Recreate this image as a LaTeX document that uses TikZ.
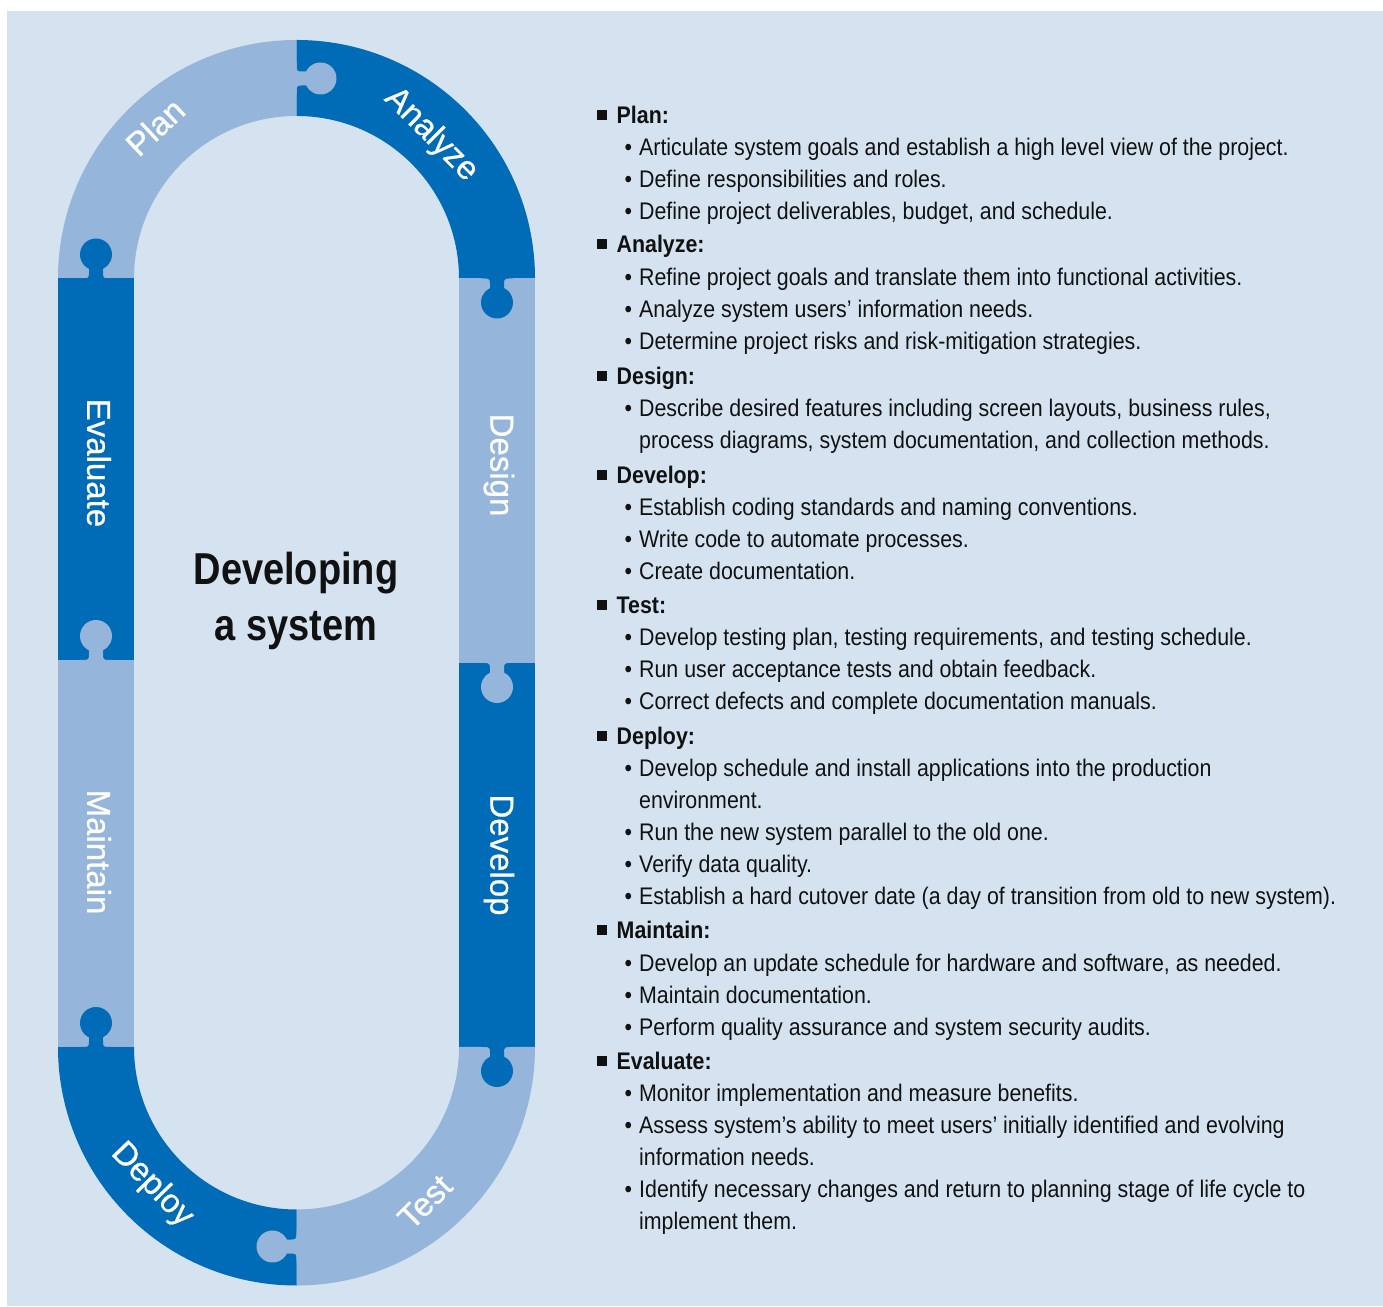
\documentclass[tikz,border=0pt]{standalone}
\usepackage{fontspec}
\setmainfont{Liberation Sans}[FakeStretch=0.89]
\newfontfamily\labelfont{Liberation Sans}[FakeBold=0.7]
\newfontfamily\titlefont{Liberation Sans}[FakeStretch=0.85]
\definecolor{bgblue}{HTML}{D5E3F0}
\definecolor{lightband}{HTML}{95B6DA}
\definecolor{darkband}{HTML}{006BB6}
\definecolor{inktext}{HTML}{111111}
\tikzset{
  pics/puzzletab/.style={code={
    \fill[#1] (-16,-2) -- (-16,0) -- (-12,0) .. controls (-8,0) and (-7,1) .. (-7,5) -- (-7,9.61)
      arc[start angle=244.06,end angle=-64.06,radius=16]
      -- (7,5) .. controls (7,1) and (8,0) .. (12,0) -- (16,0) -- (16,-2) -- cycle;
  }},
  bandlabel/.style={text=white,inner sep=0pt,font=\labelfont\fontsize{33}{37}\selectfont},
  headline/.style={anchor=base west,inner sep=0pt,text=inktext,font=\fontsize{24}{28}\selectfont\bfseries},
  itemline/.style={anchor=base west,inner sep=0pt,text=inktext,font=\fontsize{24}{28}\selectfont},
  titleline/.style={anchor=base,inner sep=0pt,text=inktext,font=\titlefont\bfseries\fontsize{44.7}{50}\selectfont}
}
\newcommand{\hsq}{\llap{\rule[3pt]{10pt}{10pt}\hspace{9.5pt}}}
\newcommand{\ibul}{\llap{\textbullet\hspace{7pt}}}
\begin{document}
\begin{tikzpicture}[x=1pt,y=1pt]
\useasboundingbox (0,0) rectangle (1383,1306);
\fill[white] (0,0) rectangle (1383,1306);
\fill[bgblue] (7,0) rectangle (1383,1295);
% band pieces
\fill[lightband] (58,1027.5) arc[start angle=180,end angle=90,radius=238.5] -- (296.5,1190) arc[start angle=90,end angle=180,radius=162.5] -- cycle;
\fill[darkband] (296.5,1266) arc[start angle=90,end angle=0,radius=238.5] -- (459,1027.5) arc[start angle=0,end angle=90,radius=162.5] -- cycle;
\fill[lightband] (459,643) rectangle (535,1027.5);
\fill[darkband] (459,259) rectangle (535,643);
\fill[lightband] (535,259) arc[start angle=0,end angle=-90,radius=238.5] -- (296.5,96.5) arc[start angle=-90,end angle=0,radius=162.5] -- cycle;
\fill[darkband] (296.5,20.5) arc[start angle=-90,end angle=-180,radius=238.5] -- (134,259) arc[start angle=180,end angle=270,radius=162.5] -- cycle;
\fill[lightband] (58,259) rectangle (134,646);
\fill[darkband] (58,646) rectangle (134,1027.5);
% tabs
\pic[rotate=-90] at (296.5,1227.5) {puzzletab=lightband};
\pic[rotate=180] at (497,1027.5) {puzzletab=darkband};
\pic[rotate=180] at (497,643) {puzzletab=lightband};
\pic[rotate=180] at (497,259) {puzzletab=darkband};
\pic[rotate=90] at (296.5,59.5) {puzzletab=lightband};
\pic at (96,259) {puzzletab=darkband};
\pic at (96,646) {puzzletab=lightband};
\pic at (96,1027.5) {puzzletab=darkband};
% band labels
\node[bandlabel,rotate=43] (lplan) at (155,1179) {Plan};
\node[bandlabel,rotate=-45] (lanalyze) at (431,1171) {Analyze};
\node[bandlabel,rotate=-90] (ldesign) at (499,841) {Design};
\node[bandlabel,rotate=-90] (ldevelop) at (499,451) {Develop};
\node[bandlabel,rotate=45] (ltest) at (425,104) {Test};
\node[bandlabel,rotate=-46] (ldeploy) at (152,121) {Deploy};
\node[bandlabel,rotate=-90] (lmaintain) at (99,454) {Maintain};
\node[bandlabel,rotate=-90] (levaluate) at (99,843) {Evaluate};
% title
\node[titleline] (title1) at (296,721) {Developing};
\node[titleline] (title2) at (296,665) {a system};
% list
\node[headline] (h1) at (616.5,1182.5) {\hsq Plan:};
\node[itemline] (i11) at (639,1150.5) {\ibul Articulate system goals and establish a high level view of the project.};
\node[itemline] (i12) at (639,1118.5) {\ibul Define responsibilities and roles.};
\node[itemline] (i13) at (639,1086.5) {\ibul Define project deliverables, budget, and schedule.};
\node[headline] (h2) at (616.5,1053.5) {\hsq Analyze:};
\node[itemline] (i21) at (639,1020.5) {\ibul Refine project goals and translate them into functional activities.};
\node[itemline] (i22) at (639,988.5) {\ibul Analyze system users’ information needs.};
\node[itemline] (i23) at (639,956.5) {\ibul Determine project risks and risk-mitigation strategies.};
\node[headline] (h3) at (616.5,921.5) {\hsq Design:};
\node[itemline] (i31) at (639,889.5) {\ibul Describe desired features including screen layouts, business rules,};
\node[itemline] (i32) at (639,857.5) {process diagrams, system documentation, and collection methods.};
\node[headline] (h4) at (616.5,822.5) {\hsq Develop:};
\node[itemline] (i41) at (639,790.5) {\ibul Establish coding standards and naming conventions.};
\node[itemline] (i42) at (639,758.5) {\ibul Write code to automate processes.};
\node[itemline] (i43) at (639,726.5) {\ibul Create documentation.};
\node[headline] (h5) at (616.5,692.5) {\hsq Test:};
\node[itemline] (i51) at (639,660.5) {\ibul Develop testing plan, testing requirements, and testing schedule.};
\node[itemline] (i52) at (639,628.5) {\ibul Run user acceptance tests and obtain feedback.};
\node[itemline] (i53) at (639,596.5) {\ibul Correct defects and complete documentation manuals.};
\node[headline] (h6) at (616.5,561.5) {\hsq Deploy:};
\node[itemline] (i61) at (639,529.5) {\ibul Develop schedule and install applications into the production};
\node[itemline] (i62) at (639,497.5) {environment.};
\node[itemline] (i63) at (639,465.5) {\ibul Run the new system parallel to the old one.};
\node[itemline] (i64) at (639,433.5) {\ibul Verify data quality.};
\node[itemline] (i65) at (639,401.5) {\ibul Establish a hard cutover date (a day of transition from old to new system).};
\node[headline] (h7) at (616.5,367.5) {\hsq Maintain:};
\node[itemline] (i71) at (639,334.5) {\ibul Develop an update schedule for hardware and software, as needed.};
\node[itemline] (i72) at (639,302.5) {\ibul Maintain documentation.};
\node[itemline] (i73) at (639,270.5) {\ibul Perform quality assurance and system security audits.};
\node[headline] (h8) at (616.5,236.5) {\hsq Evaluate:};
\node[itemline] (i81) at (639,204.5) {\ibul Monitor implementation and measure benefits.};
\node[itemline] (i82) at (639,172.5) {\ibul Assess system’s ability to meet users’ initially identified and evolving};
\node[itemline] (i83) at (639,140.5) {information needs.};
\node[itemline] (i84) at (639,108.5) {\ibul Identify necessary changes and return to planning stage of life cycle to};
\node[itemline] (i85) at (639,76.5) {implement them.};
\end{tikzpicture}
\end{document}
